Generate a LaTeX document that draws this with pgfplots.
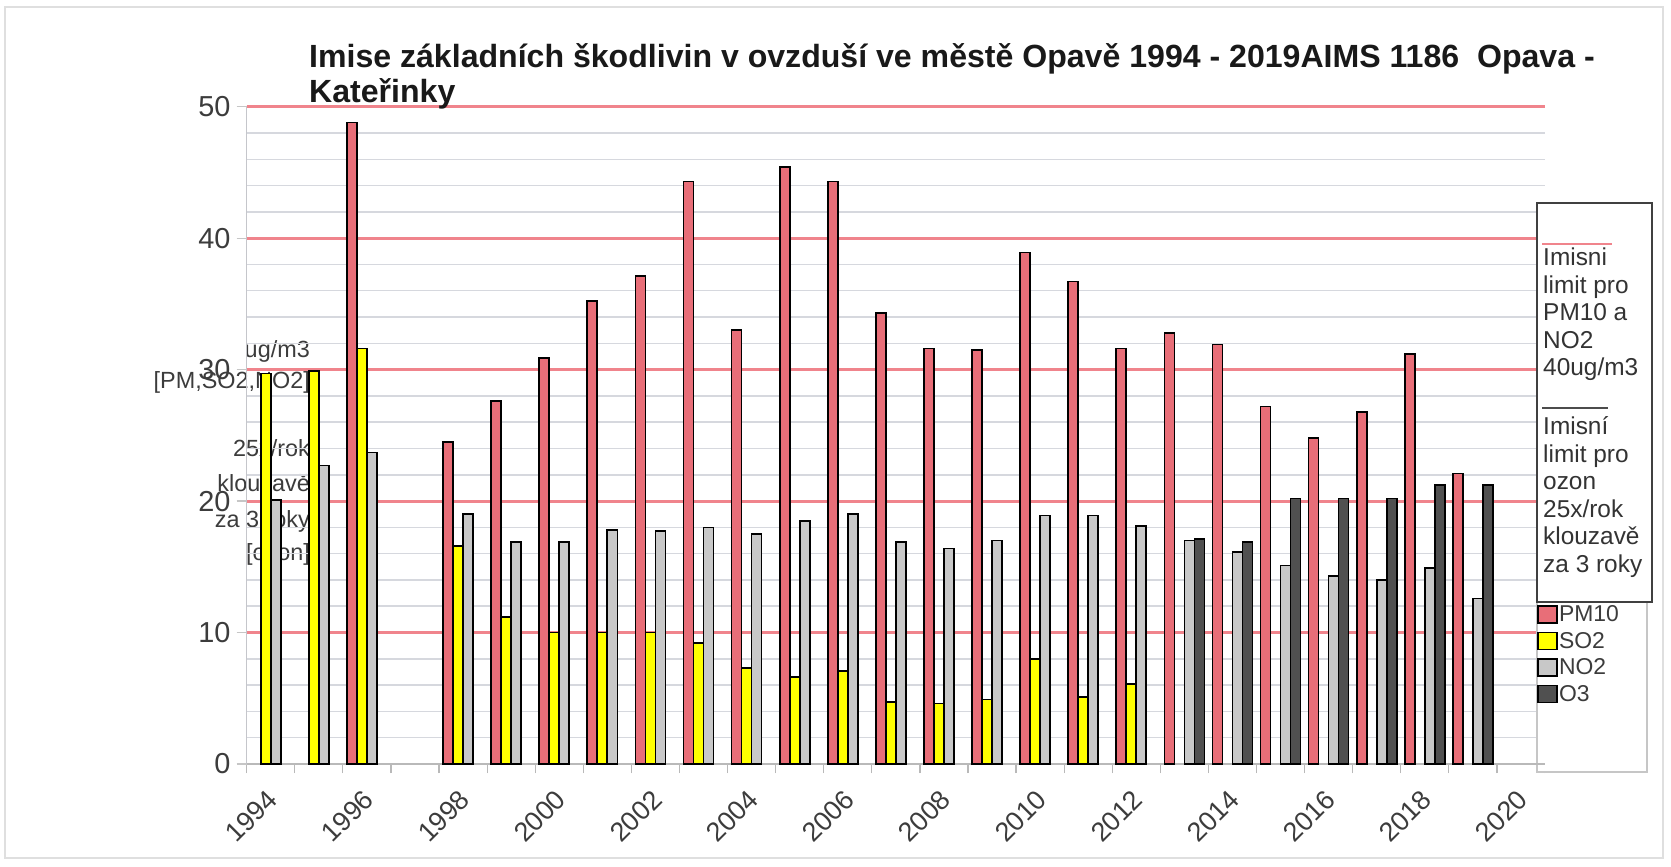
\documentclass[border=0pt]{standalone}
\usepackage{pgfplots}
\usepackage{pgfplotstable}
\pgfplotsset{compat=1.18}
\usepackage{fontspec}
\setmainfont{Liberation Sans}
\definecolor{pmred}{RGB}{232,110,120}
\definecolor{gridred}{RGB}{240,132,140}
\definecolor{gridgrey}{RGB}{214,216,222}
\definecolor{so2}{RGB}{255,255,0}
\definecolor{no2}{RGB}{200,200,200}
\definecolor{othree}{RGB}{80,80,80}
\definecolor{txt}{RGB}{60,60,60}
\pgfplotsset{sqlegend/.style={legend image code/.code={\draw[##1,line width=1.3bp] (0bp,-8.5bp) rectangle (19bp,8.5bp);}}}

% x = year - 1994
\pgfplotstableread{
x y
2 48.8
4 24.5
5 27.6
6 30.9
7 35.2
8 37.1
9 44.3
10 33.0
11 45.4
12 44.3
13 34.3
14 31.6
15 31.5
16 38.9
17 36.7
18 31.6
19 32.8
20 31.9
21 27.2
22 24.8
23 26.8
24 31.2
25 22.1
}\pmten
\pgfplotstableread{
x y
0 29.7
1 29.9
2 31.6
4 16.6
5 11.2
6 10.0
7 10.0
8 10.0
9 9.2
10 7.3
11 6.6
12 7.1
13 4.7
14 4.6
15 4.9
16 8.0
17 5.1
18 6.1
}\sotwo
\pgfplotstableread{
x y
0 20.1
1 22.7
2 23.7
4 19.0
5 16.9
6 16.9
7 17.8
8 17.7
9 18.0
10 17.5
11 18.5
12 19.0
13 16.9
14 16.4
15 17.0
16 18.9
17 18.9
18 18.1
19 17.0
20 16.1
21 15.1
22 14.3
23 14.0
24 14.9
25 12.6
}\notwo
\pgfplotstableread{
x y
19 17.1
20 16.9
21 20.2
22 20.2
23 20.2
24 21.2
25 21.2
}\othreetab

\begin{document}
\begin{tikzpicture}
\begin{scope}[x=1bp,y=1bp]
\fill[white] (0,0) rectangle (1671,866);
\draw[gray!25, line width=2bp] (5,859) rectangle (1663,8);
% axis-side annotation (behind the bars)
\begin{scope}[every node/.style={anchor=base east, inner sep=0pt, text=txt, font=\fontsize{23.5}{23.5}\selectfont}]
\node at (310,866-358) {ug/m3};
\node at (310,866-389) {[PM,SO2,NO2]};
\node at (310,866-457) {25x/rok};
\node at (310,866-492) {klouzavě};
\node at (310,866-528) {za 3 roky};
\node at (310,866-561) {[ozon]};
\end{scope}
\end{scope}

\begin{axis}[
  at={(246.7bp,102bp)}, anchor=south west,
  scale only axis, width=1298.3bp, height=657.3bp,
  xmin=-0.5, xmax=26.5, ymin=0, ymax=50,
  ybar, bar width=0.208,
  clip=false,
  /pgf/number format/assume math mode=true,
  axis line style={draw=none},
  tick pos=left, tick align=outside,
  xtick={0,2,...,26},
  xticklabels={1994,1996,1998,2000,2002,2004,2006,2008,2010,2012,2014,2016,2018,2020},
  minor xtick={-0.5,0.5,...,26.5},
  major x tick style={draw=none},
  minor x tick style={draw=gray!55, line width=1.2bp},
  minor tick length=9bp,
  major tick length=10bp,
  ytick={10,20,30,40,50},
  extra y ticks={0}, extra y tick style={grid=none},
  y tick style={draw=gray!45, line width=1.2bp},
  ymajorgrids, major grid style={gridred, line width=3bp},
  minor ytick={2,4,6,8,12,14,16,18,22,24,26,28,32,34,36,38,42,44,46,48},
  yminorgrids, minor grid style={gridgrey, line width=1.5bp},
  minor y tick style={draw=none},
  xticklabel style={font=\fontsize{27}{27}\selectfont, text=txt, inner sep=0pt, xshift=-5bp, yshift=-14bp, rotate=45, anchor=north east},
  yticklabel style={font=\fontsize{29}{29}\selectfont, text=txt, inner sep=0pt, anchor=east, xshift=-6bp},
  legend style={at={(rel axis cs:0.99384,0.2435)}, anchor=north west, draw=none, fill=none,
    font=\fontsize{23}{23}\selectfont, text=txt, row sep=5.5bp, inner sep=0pt,
    nodes={inner sep=1.5bp, text height=16bp, text depth=2bp}},
  legend cell align=left,
]
\draw[draw=gray!45, fill=white, line width=1.5bp] (rel axis cs:0.99384,-0.01217) rectangle (rel axis cs:1.07856,0.85197);
\draw[gridgrey!80!gray, line width=1.5bp] (rel axis cs:0,0) -- (rel axis cs:0,1);
\draw[gray!55, line width=1.5bp] (rel axis cs:0,0) -- (rel axis cs:1,0);
\addplot[fill=pmred, draw=black, line width=1.7bp, bar shift=-0.312, sqlegend] table[x=x,y=y]{\pmten};
\addplot[fill=so2, draw=black, line width=1.7bp, bar shift=-0.104, sqlegend] table[x=x,y=y]{\sotwo};
\addplot[fill=no2, draw=black, line width=1.7bp, bar shift=0.104, sqlegend] table[x=x,y=y]{\notwo};
\addplot[fill=othree, draw=black, line width=1.7bp, bar shift=0.312, sqlegend] table[x=x,y=y]{\othreetab};
\legend{PM10,SO2,NO2,O3}
\end{axis}

\begin{scope}[x=1bp,y=1bp]
% title
\node[anchor=base west, inner sep=0pt, text=black!90, font=\bfseries\fontsize{32.2}{32.2}\selectfont] at (309,866-68) {Imise základních škodlivin v ovzduší ve městě Opavě 1994 - 2019AIMS 1186\ \ Opava -};
\node[anchor=base west, inner sep=0pt, text=black!90, font=\bfseries\fontsize{32.2}{32.2}\selectfont] at (309,866-103) {Kateřinky};

% note box
\draw[draw=black!75, fill=white, line width=1.8bp] (1537,866-203) rectangle (1652,866-602);
\draw[gridred, line width=1.5bp] (1542,866-244) -- (1612,866-244);
\draw[black!70, line width=1.2bp] (1542,866-408) -- (1608,866-408);
\begin{scope}[every node/.style={anchor=base west, inner sep=0pt, text=black!80, font=\fontsize{24.5}{24.5}\selectfont}]
\node at (1543,866-266) {Imisni};
\node at (1543,866-293.5) {limit pro};
\node at (1543,866-321) {PM10 a};
\node at (1543,866-348.5) {NO2};
\node at (1543,866-376) {40ug/m3};
\node at (1543,866-435) {Imisní};
\node at (1543,866-462.5) {limit pro};
\node at (1543,866-490) {ozon};
\node at (1543,866-517.5) {25x/rok};
\node at (1543,866-545) {klouzavě};
\node at (1543,866-572.5) {za 3 roky};
\end{scope}
\end{scope}
\end{tikzpicture}
\end{document}
